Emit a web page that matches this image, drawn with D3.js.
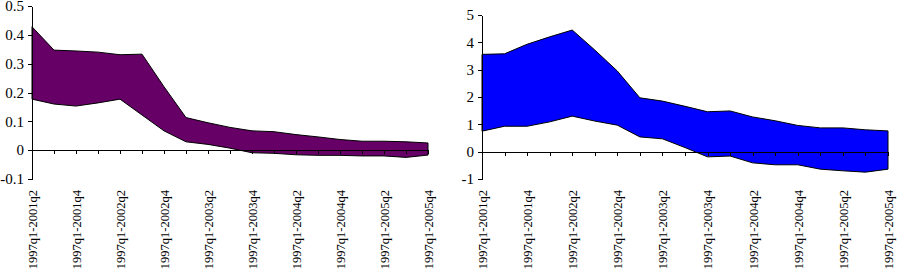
<!DOCTYPE html>
<meta charset="utf-8">
<script src="https://d3js.org/d3.v7.min.js"></script>

<style>
body { margin: 0; background: #fff; }
.axis path, .axis line { stroke: #000; shape-rendering: crispEdges; }
</style>

<div id="chart"></div>

<script>
  // Categories (end of rolling sample)
  var periods = ["2001q2", "2001q3", "2001q4", "2002q1", "2002q2", "2002q3", "2002q4",
                 "2003q1", "2003q2", "2003q3", "2003q4", "2004q1", "2004q2", "2004q3",
                 "2004q4", "2005q1", "2005q2", "2005q3", "2005q4"];
  var categories = periods.map(function (p) { return "1997q1-" + p; });

  // Left panel band
  var leftUpper = [0.428, 0.347, 0.344, 0.340, 0.331, 0.333, 0.220, 0.113, 0.095, 0.079,
                   0.067, 0.064, 0.054, 0.046, 0.037, 0.031, 0.031, 0.029, 0.025];
  var leftLower = [0.177, 0.160, 0.153, 0.164, 0.177, 0.122, 0.067, 0.029, 0.020, 0.007,
                   -0.009, -0.011, -0.016, -0.018, -0.018, -0.020, -0.020, -0.025, -0.017];
  var leftTicks = [-0.1, 0, 0.1, 0.2, 0.3, 0.4, 0.5];
  var leftTickLabels = ["-0.1", "0", "0.1", "0.2", "0.3", "0.4", "0.5"];

  // Right panel band
  var rightUpper = [3.56, 3.58, 3.93, 4.20, 4.45, 3.72, 2.95, 1.97, 1.85, 1.66,
                    1.46, 1.49, 1.27, 1.13, 0.96, 0.87, 0.87, 0.80, 0.76];
  var rightLower = [0.75, 0.93, 0.93, 1.09, 1.30, 1.12, 0.97, 0.54, 0.47, 0.15,
                    -0.19, -0.16, -0.41, -0.48, -0.48, -0.64, -0.70, -0.75, -0.64];
  var rightTicks = [-1, 0, 1, 2, 3, 4, 5];
  var rightTickLabels = ["-1", "0", "1", "2", "3", "4", "5"];

  var serif = "'Liberation Serif', 'Times New Roman', serif";

  var svg = d3.select("#chart")
              .append("svg")
              .attr("width", 904)
              .attr("height", 276);

  function panel(opts) {
    var x = d3.scalePoint()
              .domain(categories)
              .range([opts.left, opts.right]);
    var y = d3.scaleLinear()
              .domain([opts.ticks[0], opts.ticks[opts.ticks.length - 1]])
              .range([opts.bottom, opts.top]);

    var g = svg.append("g");

    // Band
    var area = d3.area()
                 .x(function (d, i) { return x(categories[i]); })
                 .y0(function (d, i) { return y(opts.lower[i]); })
                 .y1(function (d) { return y(d); });
    g.append("path")
     .datum(opts.upper)
     .attr("d", area)
     .attr("fill", opts.color)
     .attr("stroke", "#000")
     .attr("stroke-width", 1);

    // X axis at zero, ticks only
    g.append("g")
     .attr("class", "axis")
     .attr("transform", "translate(0," + y(0) + ")")
     .call(d3.axisBottom(x).tickSize(4).tickSizeOuter(0).tickFormat(""));

    // X labels, every other category, rotated
    var labels = g.append("g")
                  .attr("transform", "translate(0," + opts.labelTop + ")")
                  .call(d3.axisBottom(x).tickSize(0)
                          .tickFormat(function (d, i) { return i % 2 === 0 ? d : ""; }));
    labels.select(".domain").remove();
    labels.selectAll("text")
          .attr("transform", "rotate(-90)")
          .attr("x", 0)
          .attr("y", 0)
          .attr("dy", "0.35em")
          .attr("fill", "#000")
          .style("text-anchor", "end")
          .style("font-family", serif)
          .style("font-size", "12.5px");

    // Y axis
    var yAxis = g.append("g")
                 .attr("class", "axis")
                 .attr("transform", "translate(" + opts.left + ",0)")
                 .call(d3.axisLeft(y).tickValues(opts.ticks).tickSize(4).tickSizeOuter(0)
                         .tickFormat(function (d, i) { return opts.tickLabels[i]; }));
    yAxis.selectAll("text")
         .attr("x", -8)
         .attr("fill", "#000")
         .style("font-family", serif)
         .style("font-size", "15px");
  }

  panel({ left: 32, right: 428, top: 6, bottom: 179, labelTop: 190,
          ticks: leftTicks, tickLabels: leftTickLabels,
          upper: leftUpper, lower: leftLower, color: "#660066" });

  panel({ left: 482, right: 888, top: 15, bottom: 179, labelTop: 190,
          ticks: rightTicks, tickLabels: rightTickLabels,
          upper: rightUpper, lower: rightLower, color: "#0000ff" });
</script>
